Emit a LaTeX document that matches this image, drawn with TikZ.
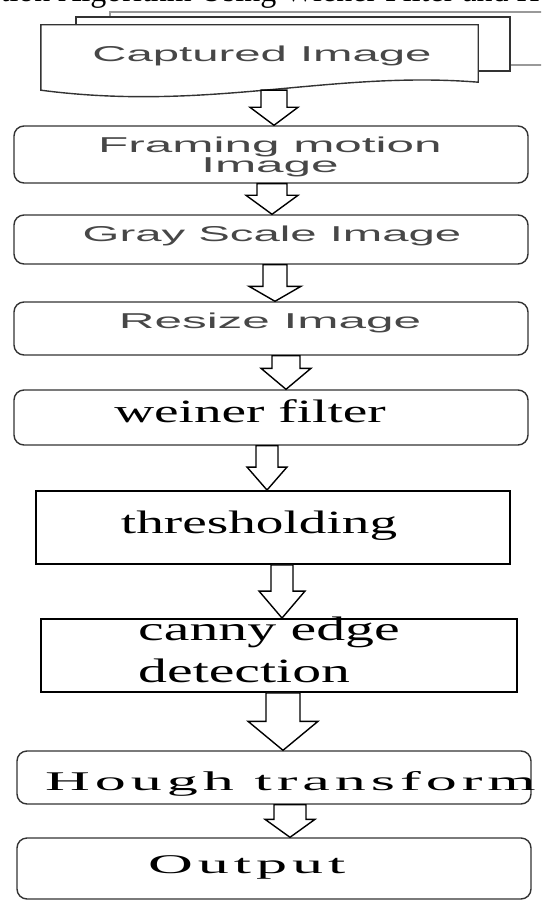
\documentclass[tikz,border=0pt]{standalone}
\usepackage{fontspec}
\usepackage{graphicx}
\usepackage{tikz}
\usetikzlibrary{calc}
\setmainfont{Liberation Serif}
\newfontfamily\boxsans{Liberation Sans}
\newfontfamily\boxserif{Liberation Serif}
\newfontfamily\wideserif[LetterSpace=8]{Liberation Serif}

% horizontally stretched text
\newcommand{\wide}[2]{\scalebox{#1}[1]{#2}}

\tikzset{
  stage/.style={draw=black!80, line width=1.4pt, rounded corners=10pt,
    minimum width=514pt, inner sep=0pt},
  plainstage/.style={draw=black, line width=1.9pt, inner sep=0pt},
  sanslabel/.style={font=\boxsans\fontsize{21.5}{18}\selectfont,
    text=black!72, anchor=base, inner sep=0pt},
  seriflabel/.style={font=\boxserif\fontsize{32.5}{39}\selectfont,
    anchor=base, inner sep=0pt},
  widelabel/.style={font=\wideserif\fontsize{27}{32}\selectfont,
    anchor=base west, inner sep=0pt},
  hollow/.style={draw=black, line width=1.4pt, fill=white},
}

% block arrow: from, to, x, stem half width, head half width, head length
\newcommand{\flowarrow}[6]{%
  \draw[hollow] let \p1=(#1.south), \p2=(#2.north) in
    ({(#3-#4)*1pt},\y1) -- ({(#3-#4)*1pt},{\y2+#6pt})
    -- ({(#3-#5)*1pt},{\y2+#6pt}) -- ({#3*1pt},\y2)
    -- ({(#3+#5)*1pt},{\y2+#6pt}) -- ({(#3+#4)*1pt},{\y2+#6pt})
    -- ({(#3+#4)*1pt},\y1) -- cycle;}

\begin{document}
\begin{tikzpicture}[x=1pt,y=-1pt]
\useasboundingbox (0,0) rectangle (541,901);
\clip (0,0) rectangle (541,901);

% heading, cut off at the top
\node[font=\fontsize{32}{38}\selectfont, anchor=base west, inner sep=0pt]
  (title) at (0.5,1.5) {tion Algorithm Using Wiener Filter and Hough};

% stacked pages of the input
\draw[gray!80, line width=1.2pt] (110,17) -- (110,12) -- (545,12);
\draw[gray!80, line width=1.2pt] (510,65) -- (545,65);
\draw[black!80, line width=1.4pt] (76,25) -- (76,17) -- (510,17) -- (510,71) -- (478,71);
\node[minimum width=437pt, minimum height=65pt, inner sep=0pt] (cap) at (259.5,57.5) {};
\draw[black!80, line width=1.4pt, fill=white] (cap.north west) -- (cap.north east)
  -- ($(cap.south east)+(0,-8)$)
  .. controls ($(cap.south east)+(-148,-20)$) and ($(cap.south west)+(169,22)$) .. (cap.south west)
  -- cycle;

% processing stages
\node[stage, minimum height=57pt] (frame) at (271,154.5) {};
\node[stage, minimum height=49pt] (gray) at (271,239.5) {};
\node[stage, minimum height=53pt] (resize) at (271,328.5) {};
\node[stage, minimum height=55pt] (wiener) at (271,417.5) {};
\node[plainstage, minimum width=474pt, minimum height=73pt] (thresh) at (273,527.5) {};
\node[plainstage, minimum width=476pt, minimum height=73pt] (canny) at (279,655.5) {};
\node[stage, minimum height=53pt] (hough) at (274,777.5) {};
\node[stage, minimum height=61pt] (output) at (274,868.5) {};

% labels
\node[sanslabel] (t-cap) at (262,62) {\wide{2.2}{Captured Image}};
\node[sanslabel, align=center] (t-frame) at (270,173)
  {\wide{2.3}{Framing motion}\\\wide{2.3}{Image}};
\node[sanslabel] (t-gray) at (272,241) {\wide{2.2}{Gray Scale Image}};
\node[sanslabel] (t-resize) at (270,328) {\wide{2.3}{Resize Image}};
\node[seriflabel] (t-wiener) at (250,422) {\wide{1.7}{weiner filter}};
\node[seriflabel] (t-thresh) at (259,533) {\wide{1.7}{thresholding}};
\node[seriflabel, font=\boxserif\fontsize{34}{42}\selectfont, align=left, anchor=base west]
  (t-canny) at (138,682) {\wide{1.7}{canny edge}\\\wide{1.7}{detection}};
\node[widelabel] (t-hough) at (45,790) {\wide{2.3}{Hough transform}};
\node[widelabel] (t-output) at (148,873) {\wide{2.3}{Output}};

% flow
\flowarrow{cap}{frame}{274}{13}{24}{18}
\flowarrow{frame}{gray}{272}{15}{26}{19}
\flowarrow{gray}{resize}{275}{12}{26}{15}
\flowarrow{resize}{wiener}{286}{14}{25}{21}
\flowarrow{wiener}{thresh}{267}{11}{20}{23}
\flowarrow{thresh}{canny}{282}{11}{23}{27}
\flowarrow{canny}{hough}{283}{17}{35}{29}
\flowarrow{hough}{output}{290}{16}{25}{18}
\end{tikzpicture}
\end{document}
